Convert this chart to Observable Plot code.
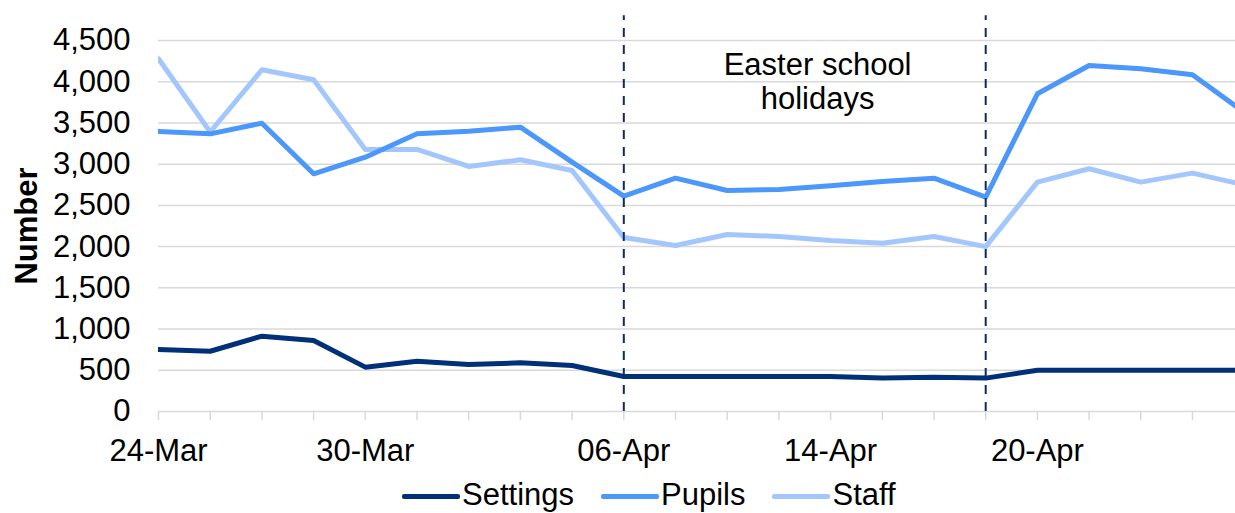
<!DOCTYPE html>
<html><head><meta charset="utf-8">
<script src="https://cdn.jsdelivr.net/npm/d3@7"></script>
<script src="https://cdn.jsdelivr.net/npm/@observablehq/plot@0.6"></script>
<style>
body{margin:0;background:#fff;font-family:"Liberation Sans",Arial,sans-serif;}
#chart{position:relative;width:1235px;height:513px;overflow:hidden;background:#fff}
.legend{position:absolute;left:402px;top:478px;height:33px;line-height:33px;font-size:31px;white-space:nowrap;color:#000}
.legend .item{margin-right:27px}
.legend .sw{display:inline-block;width:58px;height:5px;border-radius:2px;vertical-align:middle;margin-right:2px}
g[aria-label="y-axis label"]{font-weight:bold}
</style></head><body><div id="chart"></div>
<script>
// ---- data ----
const dates = ["24-Mar","25-Mar","26-Mar","27-Mar","30-Mar","31-Mar","01-Apr","02-Apr","03-Apr","06-Apr","07-Apr","08-Apr","09-Apr","14-Apr","15-Apr","16-Apr","17-Apr","20-Apr","21-Apr","22-Apr","23-Apr","24-Apr"];
const settings = [752,731,914,861,538,610,570,590,558,425,425,425,425,425,405,416,405,500,500,500,500,500];
const pupils = [3396,3368,3497,2883,3085,3368,3400,3449,3024,2612,2830,2681,2693,2738,2790,2830,2600,3854,4197,4157,4084,3630];
const staff = [4278,3390,4145,4023,3178,3178,2972,3053,2923,2110,2013,2147,2123,2074,2040,2123,2000,2782,2944,2782,2891,2750];
const seriesNames = ["Settings","Pupils","Staff"];
const seriesColors = ["#003078","#4b97fa","#a3c7fd"];
const xTickLabels = ["24-Mar","30-Mar","06-Apr","14-Apr","20-Apr"];
const yTicks = [0,500,1000,1500,2000,2500,3000,3500,4000,4500];
const holidayBounds = ["06-Apr","17-Apr"];
const holidayLabel = "Easter school\nholidays";

// ---- layout ----
const W = 1235, H = 478, mL = 158, mT = 40, mB = 67, mR = 0;
const STEP = 51.7;

const rows = [];
[staff, pupils, settings].forEach((arr, k) => {
  const name = ["Staff","Pupils","Settings"][k];
  arr.forEach((v, i) => rows.push({date: dates[i], value: v, series: name}));
});

const chart = Plot.plot({
  width: W, height: H,
  marginLeft: mL, marginTop: mT, marginBottom: mB, marginRight: mR,
  style: {fontSize: "31px", fontFamily: "'Liberation Sans', Arial, sans-serif", color: "#000", background: "#fff"},
  x: {type: "point", domain: dates, range: [mL, mL + STEP * (dates.length - 1)], padding: 0, round: false},
  y: {domain: [0, 4500]},
  color: {domain: seriesNames, range: seriesColors},
  marks: [
    Plot.gridY(yTicks, {stroke: "#d9d9d9", strokeOpacity: 1, strokeWidth: 1.5}),
    Plot.axisY(yTicks, {tickSize: 0, tickPadding: 28, tickFormat: d3.format(","), label: "Number", labelAnchor: "center", labelOffset: 144, labelArrow: "none"}),
    Plot.axisX(dates, {tickSize: 9, stroke: "#d9d9d9", strokeWidth: 1.5, strokeOpacity: 1, tickFormat: () => "", label: null}),
    Plot.axisX(xTickLabels, {tickSize: 0, tickPadding: 27, label: null}),
    Plot.line(rows, {x: "date", y: "value", z: "series", stroke: "series", strokeWidth: 5, clip: true}),
    Plot.ruleX(holidayBounds, {y1: 0, y2: 4800, stroke: "#0d2b5e", strokeWidth: 2, strokeDasharray: "9,8"}),
    Plot.text([holidayLabel], {x: () => "14-Apr", frameAnchor: "top", lineAnchor: "top", dx: -13, dy: 10, lineHeight: 1.1, fontSize: 31, fill: "#000", text: d => d})
  ]
});

const root = document.getElementById("chart");
root.appendChild(chart);
const legend = document.createElement("div");
legend.className = "legend";
seriesNames.forEach((n, i) => {
  const it = document.createElement("span");
  it.className = "item";
  const sw = document.createElement("span");
  sw.className = "sw";
  sw.style.background = seriesColors[i];
  it.appendChild(sw);
  it.appendChild(document.createTextNode(n));
  legend.appendChild(it);
});
root.appendChild(legend);
</script>
</body></html>
